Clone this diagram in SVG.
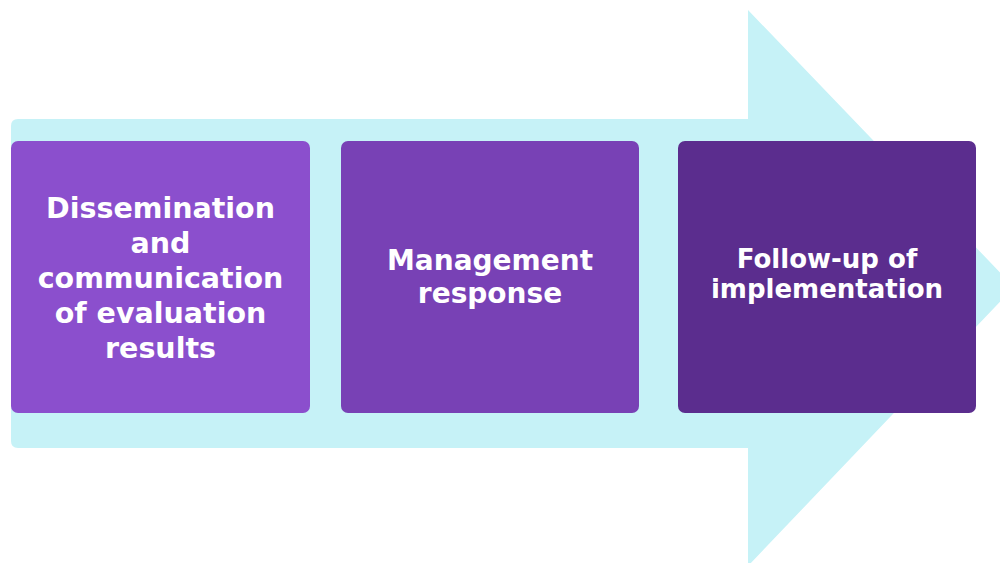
<svg xmlns="http://www.w3.org/2000/svg" width="1000" height="563" viewBox="0 0 1000 563">
  <style>
    .box { stroke: none; }
    .lbl { font-family: "DejaVu Sans", "Liberation Sans", sans-serif; font-weight: bold; font-size: 28px; fill: #ffffff; text-anchor: middle; }
    .l1 { font-size: 28.5px; }
    .l3 { font-size: 26px; }
  </style>
  <rect width="1000" height="563" fill="#ffffff"/>
  <g id="arrow">
    <path d="M 18,119 H 748 V 10 L 1014,287 L 748,566 V 448 H 18 Q 11,448 11,441 V 126 Q 11,119 18,119 Z" fill="#C6F2F7"/>
  </g>
  <g id="connectors"></g>
  <g id="node1">
    <rect class="box" x="11" y="141" width="299" height="272" rx="7" fill="#8B4FCD"/>
    <text class="lbl l1" x="160.5" y="218">Dissemination</text>
    <text class="lbl l1" x="160.5" y="253">and</text>
    <text class="lbl l1" x="160.5" y="288">communication</text>
    <text class="lbl l1" x="160.5" y="323">of evaluation</text>
    <text class="lbl l1" x="160.5" y="358">results</text>
  </g>
  <g id="node2">
    <rect class="box" x="341" y="141" width="298" height="272" rx="7" fill="#7841B5"/>
    <text class="lbl" x="490" y="270">Management</text>
    <text class="lbl" x="490" y="303">response</text>
  </g>
  <g id="node3">
    <rect class="box" x="678" y="141" width="298" height="272" rx="7" fill="#5B2D8E"/>
    <text class="lbl l3" x="827" y="268">Follow-up of</text>
    <text class="lbl l3" x="827" y="298">implementation</text>
  </g>
</svg>
